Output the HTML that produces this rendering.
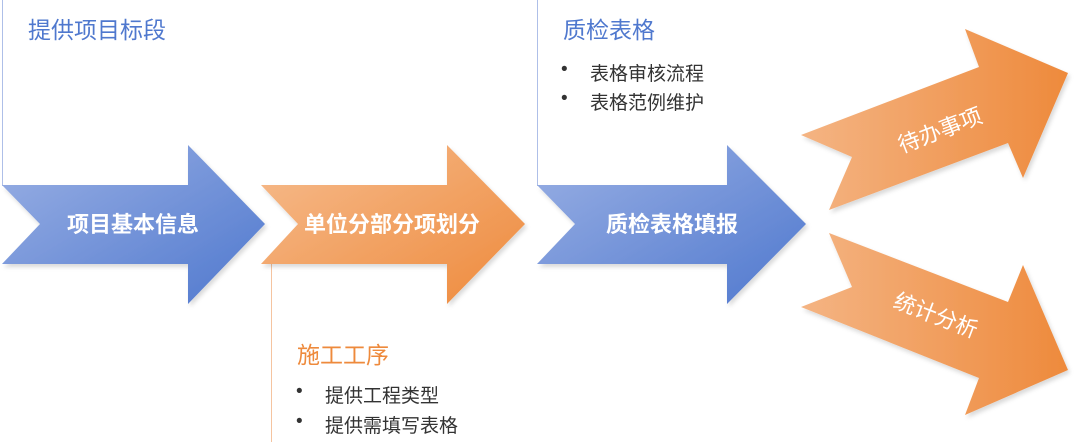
<!DOCTYPE html>
<html><head><meta charset="utf-8"><style>
body{margin:0;width:1080px;height:448px;background:#fff;overflow:hidden;position:relative;font-family:"Liberation Sans","Noto Sans CJK SC",sans-serif}
.t{position:absolute;white-space:nowrap}
.h{font-size:23px}
.b{font-size:19px;color:#333}
</style></head><body>
<svg width="1080" height="448" style="position:absolute;left:0;top:0">
<defs>
<linearGradient id="bl" x1="0" y1="0" x2="1" y2="1"><stop offset="0" stop-color="#9ab0e4"/><stop offset="1" stop-color="#4f78ce"/></linearGradient>
<linearGradient id="or" x1="0" y1="0" x2="1" y2="1"><stop offset="0" stop-color="#f6bc8e"/><stop offset="1" stop-color="#ee8a3c"/></linearGradient>
<linearGradient id="or2" x1="0" y1="0" x2="1" y2="0"><stop offset="0" stop-color="#f4b483"/><stop offset="1" stop-color="#ee8a3c"/></linearGradient>
<filter id="sh" x="-10%" y="-10%" width="120%" height="130%"><feDropShadow dx="2" dy="3" stdDeviation="2" flood-color="#000" flood-opacity="0.15"/></filter>
</defs>
<line x1="2.5" y1="0" x2="2.5" y2="186" stroke="#aebfe8" stroke-width="1"/>
<line x1="537.5" y1="0" x2="537.5" y2="186" stroke="#aebfe8" stroke-width="1"/>
<line x1="271.5" y1="264" x2="271.5" y2="442" stroke="#f5c4a0" stroke-width="1"/>
<g filter="url(#sh)">
<polygon points="2,185 188,185 188,145 265,224 188,304 188,264 2,264 40,224" fill="url(#bl)"/>
<polygon points="261,185 447,185 447,145 525,224 447,304 447,264 261,264 298,224" fill="url(#or)"/>
<polygon points="537,185 727,185 727,145 806,224 727,304 727,264 537,264 575,224" fill="url(#bl)"/>
<polygon points="801,135 979,67 965,29 1068,73 1023,178 1008,143 829,210 852,157" fill="url(#or2)"/>
<polygon points="829,233 1008,302 1023,265 1068,370 965,415 979,378 801,307 852,287" fill="url(#or2)"/>
</g>
<g font-family="Liberation Sans,Noto Sans CJK SC,sans-serif" font-size="22" fill="#fff" font-weight="bold" text-anchor="middle">
<text x="133" y="232">项目基本信息</text>
<text x="392" y="232">单位分部分项划分</text>
<text x="672" y="232">质检表格填报</text>
<text x="940" y="138" font-weight="normal" font-size="22" transform="rotate(-21 940 130)">待办事项</text>
<text x="936" y="323" font-weight="normal" font-size="22" transform="rotate(21 936 315)">统计分析</text>
</g>
</svg>
<div class="t h" style="left:28px;top:11px;color:#4f78ce">提供项目标段</div>
<div class="t h" style="left:563px;top:11px;color:#4f78ce">质检表格</div>
<div class="t b" style="left:561px;top:59px">•</div><div class="t b" style="left:590px;top:59px">表格审核流程</div>
<div class="t b" style="left:561px;top:88px">•</div><div class="t b" style="left:590px;top:88px">表格范例维护</div>
<div class="t h" style="left:297px;top:336px;color:#ee8a3c">施工工序</div>
<div class="t b" style="left:296px;top:381px">•</div><div class="t b" style="left:325px;top:381px">提供工程类型</div>
<div class="t b" style="left:296px;top:411px">•</div><div class="t b" style="left:325px;top:411px">提供需填写表格</div>
</body></html>
